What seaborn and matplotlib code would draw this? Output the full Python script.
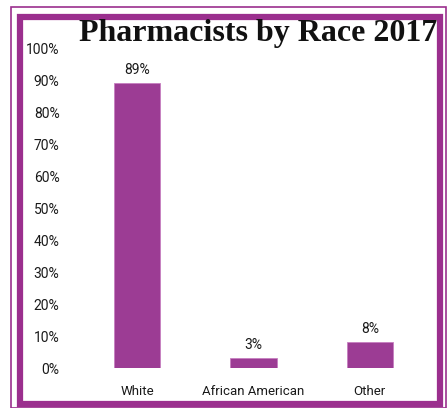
import matplotlib
matplotlib.use("Agg")
import matplotlib.pyplot as plt
import seaborn as sns
import pandas as pd
from matplotlib.patches import Rectangle

# data
races = ["White", "African American", "Other"]
shares = [0.89, 0.03, 0.08]
share_labels = ["89%", "3%", "8%"]
y_ticks = [0.0, 0.1, 0.2, 0.3, 0.4, 0.5, 0.6, 0.7, 0.8, 0.9, 1.0]
y_tick_labels = ["0%", "10%", "20%", "30%", "40%", "50%", "60%", "70%", "80%", "90%", "100%"]

BAR_COLOR = "#9c3c94"
FRAME_COLOR = "#9b2f8e"

sns.set_theme(style="white")
plt.rcParams["font.family"] = ["Roboto", "DejaVu Sans"]

df = pd.DataFrame({"race": races, "share": shares})

fig = plt.figure(figsize=(4.47, 4.08), dpi=100)
ax = fig.add_axes([79 / 447, 1 - 368 / 408, (428 - 79) / 447, 320 / 408])

sns.barplot(data=df, x="race", y="share", color=BAR_COLOR, width=0.4,
            saturation=1, edgecolor="#c77fc0", linewidth=0.6, ax=ax)

for i, (v, lab) in enumerate(zip(shares, share_labels)):
    ax.text(i, v + 0.02, lab, ha="center", va="bottom", fontsize=10, color="#1a1a1a")

ax.set_xlim(-0.5, 2.5)
ax.set_ylim(0, 1)
ax.set_yticks(y_ticks)
ax.set_yticklabels(y_tick_labels)
ax.set_xlabel("")
ax.set_ylabel("")
ax.tick_params(axis="y", length=0, pad=14, labelsize=10, labelcolor="#1a1a1a")
ax.tick_params(axis="x", length=0, pad=12, labelsize=9.5, labelcolor="#1a1a1a")
sns.despine(ax=ax, left=True, bottom=True)

# title
fig.text(258 / 447, 1 - 41 / 408, "Pharmacists by Race 2017", ha="center",
         va="baseline", fontsize=23, fontweight="bold",
         family=["Liberation Serif", "DejaVu Serif"], color="#111111")

# frame
fig.patches.append(Rectangle((11 / 447, 0), (446 - 11) / 447, 1 - 7 / 408,
                             transform=fig.transFigure, fill=False,
                             edgecolor=FRAME_COLOR, linewidth=1.2))
fig.patches.append(Rectangle((20 / 447, 1 - 403.5 / 408), (440 - 20) / 447, (403.5 - 17) / 408,
                             transform=fig.transFigure, fill=False,
                             edgecolor=FRAME_COLOR, linewidth=4.5))

fig.savefig("out.png", dpi=100)
